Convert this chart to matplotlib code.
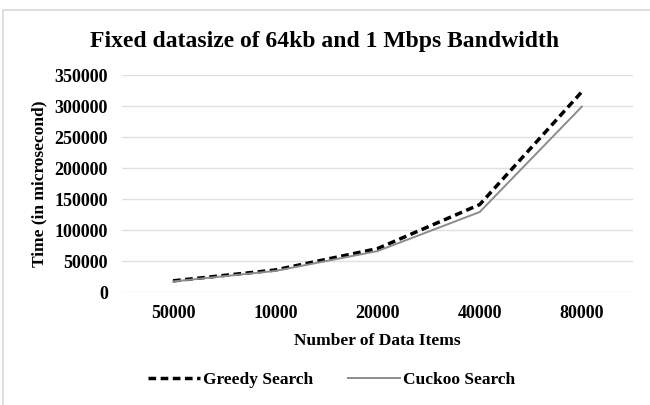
import matplotlib
matplotlib.use("Agg")
import matplotlib.pyplot as plt
from matplotlib.patches import Rectangle

categories = ["50000", "10000", "20000", "40000", "80000"]
greedy = [18000, 35500, 70000, 141000, 323000]
cuckoo = [17000, 34000, 66000, 129000, 299000]
yticks = [0, 50000, 100000, 150000, 200000, 250000, 300000, 350000]

plt.rcParams['font.family'] = ['Liberation Serif', 'DejaVu Serif']
plt.rcParams['font.weight'] = 'bold'

fig = plt.figure(figsize=(6.5, 4.05), dpi=100)
ax = fig.add_axes([0.1877, 0.279, 0.7861, 0.5358])

# light frame around the chart area
fig.patches.append(Rectangle((3 / 650, -0.05), 1.0, 1 - 10 / 405 + 0.05,
                             transform=fig.transFigure, fill=False,
                             edgecolor='#d9d9d9', linewidth=1.2))

x = list(range(len(categories)))
ax.plot(x, greedy, color='black', linestyle=(0, (2.2, 1.3)), linewidth=2.5,
        label='Greedy Search')
ax.plot(x, cuckoo, color='#8c8c8c', linestyle='-', linewidth=1.4,
        label='Cuckoo Search')

ax.set_xlim(-0.5, 4.5)
ax.set_ylim(0, 350000)
ax.set_yticks(yticks)
ax.set_yticklabels([str(v) for v in yticks])
ax.set_xticks(x)
ax.set_xticklabels(categories)
ax.tick_params(axis='both', length=0, labelsize=13)
ax.tick_params(axis='y', pad=10)
ax.tick_params(axis='x', pad=9)
for lab in ax.get_xticklabels() + ax.get_yticklabels():
    lab.set_fontweight('bold')

ax.grid(axis='y', color='#e0e0e0', linewidth=1)
ax.set_axisbelow(True)
for s in ax.spines.values():
    s.set_visible(False)

ax.set_xlabel('Number of Data Items', fontsize=12.5, fontweight='bold', labelpad=8)
ax.set_ylabel('Time (in microsecond)', fontsize=12.5, fontweight='bold', labelpad=5)
fig.text(0.5, 1 - 42 / 405, 'Fixed datasize of 64kb and 1 Mbps Bandwidth',
         ha='center', va='center', fontsize=17, fontweight='bold')

fig.legend(loc='center', bbox_to_anchor=(0.51, 1 - 380 / 405), ncol=2,
           frameon=False, fontsize=12.5, handlelength=3.0, handletextpad=0.15,
           columnspacing=2.0)

fig.savefig('out.png', dpi=100)
